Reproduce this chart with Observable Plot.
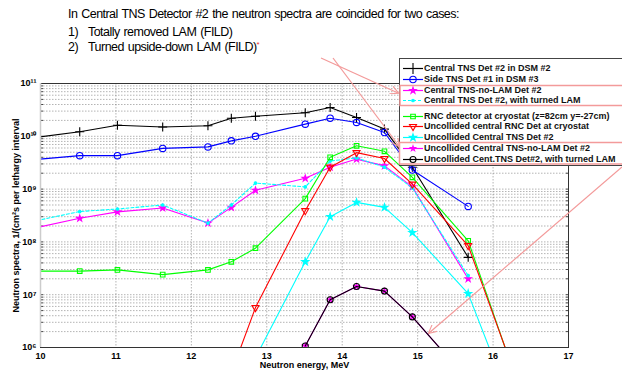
<!DOCTYPE html>
<html><head><meta charset="utf-8">
<script src="https://cdn.jsdelivr.net/npm/d3@7"></script>
<script src="https://cdn.jsdelivr.net/npm/@observablehq/plot@0.6"></script>
<style>
body{margin:0;width:622px;height:370px;overflow:hidden;background:#fff;position:relative;font-family:"Liberation Sans",Arial,sans-serif;}
#chart{position:absolute;left:0;top:0;}
.t{position:absolute;font-size:12.5px;color:#000;white-space:nowrap;letter-spacing:-0.55px;word-spacing:1px;}
#legend{position:absolute;left:399px;top:58px;width:240px;height:106px;border:1px solid #444;background:#fff;z-index:2;}
.row{position:absolute;left:0;height:11px;white-space:nowrap;font-size:9px;font-weight:bold;color:#111;line-height:11px;}
.row svg{position:absolute;left:0;top:0;}
.row span{position:absolute;left:24px;top:0;}
#ann{position:absolute;left:0;top:0;z-index:3;pointer-events:none;}
</style></head><body>
<div id="chart"></div>
<div class="t" style="left:68px;top:7px">In Central TNS Detector #2 the neutron spectra are coincided for two cases:</div>
<div class="t" style="left:68px;top:25px">1)</div>
<div class="t" style="left:88px;top:25px">Totally removed LAM (FILD)</div>
<div class="t" style="left:68px;top:40px">2)</div>
<div class="t" style="left:88px;top:40px">Turned upside-down LAM (FILD)<span style="color:#e33;font-size:8px;vertical-align:top">*</span></div>
<div id="legend"></div>
<svg id="ann" width="622" height="370"></svg>
<script>
// ---- data ----
const energy = [9.5, 10.52, 11.02, 11.62, 12.22, 12.53, 12.85, 13.51, 13.84, 14.19, 14.56, 14.93, 15.67, 16.5];
const centralDSM2   = [7.9e9, 1.22e10, 1.62e10, 1.5e10, 1.58e10, 2.2e10, 2.4e10, 2.8e10, 3.5e10, 2.27e10, 1.37e10, 2.6e9, 5.1e7, null];
const sideDSM3      = [3.2e9, 4.3e9, 4.3e9, 5.9e9, 6.3e9, 8.2e9, 1.0e10, 1.7e10, 2.2e10, 1.83e10, 1.18e10, 2.3e9, 4.7e8, null];
const centralNoLAM  = [1.35e8, 2.8e8, 3.7e8, 4.4e8, 2.27e8, 4.5e8, 9.5e8, 1.6e9, 2.6e9, 3.7e9, 2.75e9, 1.1e9, 2.0e7, null];
const centralTurned = [1.86e8, 3.76e8, 4.2e8, 5.0e8, 2.27e8, 5.0e8, 1.3e9, 1.1e9, 3.4e9, 3.9e9, 2.6e9, 1.05e9, 2.3e7, null];
const rncCryostat   = [2.8e7, 2.8e7, 2.95e7, 2.4e7, 2.95e7, 4.2e7, 7.6e7, 6.6e8, 4.0e9, 6.6e9, 5.2e9, 1.67e9, 1.05e8, 3.9e4];
const uncRNC        = [null, null, null, null, null, 3.3e5, 5.7e6, 3.9e8, 2.6e9, 4.9e9, 3.8e9, 1.24e9, 8.5e7, 4.6e4];
const uncCentral    = [null, null, null, null, null, null, 6.4e5, 4.2e7, 3.0e8, 5.6e8, 4.5e8, 1.5e8, 1.05e7, 9.3e3];
const uncNoLAM      = [null, null, null, null, null, null, null, 1.07e6, 8.0e6, 1.43e7, 1.17e7, 3.8e6, 2.4e5, null];
const uncTurned     = [null, null, null, null, null, null, null, 1.07e6, 8.0e6, 1.43e7, 1.17e7, 3.8e6, 2.4e5, null];

const seriesNames = [
  "Central TNS Det #2 in DSM #2",
  "Side TNS Det #1 in DSM #3",
  "Central TNS-no-LAM Det #2",
  "Central TNS Det #2, with turned LAM",
  "RNC detector at cryostat (z=82cm y=-27cm)",
  "Uncollided central RNC Det at cryostat",
  "Uncollided Central TNS Det #2",
  "Uncollided Central TNS-no-LAM Det #2",
  "Uncollided Cent.TNS Det#2, with turned LAM"
];
const xTicks = [10, 11, 12, 13, 14, 15, 16, 17];
const yTicks = [1e6, 1e7, 1e8, 1e9, 1e10, 1e11];

// ---- styles ----
const styles = [
  {stroke: "#000000", symbol: "plus", fill: "none", r: 3},
  {stroke: "#0000ff", symbol: "circle", fill: "none", r: 3.2},
  {stroke: "#ff00ff", symbol: "star", fill: "#ff00ff", r: 2},
  {stroke: "#00ffff", symbol: "circle", fill: "#00ffff", r: 1.3, dash: "3,2"},
  {stroke: "#00ff00", symbol: "square", fill: "none", r: 2.6},
  {stroke: "#ff0000", symbol: "triangle", fill: "none", r: 2.6, rotate: 180},
  {stroke: "#00ffff", symbol: "star", fill: "#00ffff", r: 2.2},
  {stroke: "#ff00ff", symbol: "star", fill: "#ff00ff", r: 1.6},
  {stroke: "#000000", symbol: "circle", fill: "none", r: 3}
];
const allSeries = [centralDSM2, sideDSM3, centralNoLAM, centralTurned, rncCryostat, uncRNC, uncCentral, uncNoLAM, uncTurned];

const minorTicks = [];
for (let d = 6; d <= 10; d++) for (let k = 1; k <= 9; k++) minorTicks.push(k * Math.pow(10, d));
minorTicks.push(1e11);

const sup = {"0":"⁰","1":"¹","2":"²","3":"³","4":"⁴","5":"⁵","6":"⁶","7":"⁷","8":"⁸","9":"⁹"};
const fmtY = v => "10" + String(Math.round(Math.log10(v))).split("").map(c => sup[c]).join("");

const marks = [
  Plot.gridY(minorTicks, {stroke: "#777", strokeOpacity: 0.55, strokeDasharray: "1.5,1.5"}),
  Plot.gridX(xTicks, {stroke: "#777", strokeOpacity: 0.55, strokeDasharray: "1.5,1.5"}),
  Plot.axisY(minorTicks, {anchor: "left", tickSize: -3, tickFormat: () => "", label: null, stroke: "#444"}),
  Plot.axisY(minorTicks, {anchor: "right", tickSize: -3, tickFormat: () => "", label: null, stroke: "#444"}),
  Plot.axisY(yTicks, {anchor: "left", tickSize: 0, tickPadding: 4, tickFormat: fmtY, fontSize: 9, fontWeight: "bold",
    label: "Neutron spectra, 1/(cm²s per lethargy interval", labelAnchor: "center", labelArrow: "none", labelOffset: 28}),
  Plot.axisX(xTicks, {tickSize: 0, tickPadding: 5, tickFormat: d => String(d), fontSize: 9, fontWeight: "bold",
    label: "Neutron energy, MeV", labelAnchor: "center", labelArrow: "none", labelOffset: 20})
];
allSeries.forEach((vals, i) => {
  const st = styles[i];
  const data = energy.map((e, j) => ({e, v: vals[j]})).filter(d => d.v != null);
  marks.push(Plot.line(data, {x: "e", y: "v", stroke: st.stroke, strokeWidth: 1.1, strokeDasharray: st.dash, clip: true}));
  marks.push(Plot.dot(data, {x: "e", y: "v", symbol: st.symbol, r: st.r, stroke: st.stroke, fill: st.fill, strokeWidth: 1.1, rotate: st.rotate || 0, clip: true}));
});
marks.push(Plot.frame({stroke: "#333", strokeWidth: 1}));
marks.push(Plot.ruleX([10], {stroke: "#ccc", strokeWidth: 1.5}));

const chart = Plot.plot({
  width: 622, height: 370,
  marginLeft: 40, marginRight: 54, marginTop: 83, marginBottom: 23,
  style: {fontFamily: "'Liberation Sans', Arial, sans-serif", fontSize: "9px", fontWeight: "bold", background: "transparent", overflow: "visible"},
  x: {domain: [10, 17]},
  y: {type: "log", domain: [1e6, 1e11]},
  marks
});
document.getElementById("chart").appendChild(chart);

// ---- legend ----
const rowY = [9, 20, 31, 41.5, 57, 67.5, 78, 89, 100];
const symMap = {plus: d3.symbolPlus, circle: d3.symbolCircle, star: d3.symbolStar, square: d3.symbolSquare, triangle: d3.symbolTriangle};
const legend = document.getElementById("legend");
seriesNames.forEach((name, i) => {
  const st = styles[i];
  const row = document.createElement("div");
  row.className = "row";
  row.style.top = (rowY[i] - 5.5) + "px";
  const svg = d3.create("svg").attr("width", 24).attr("height", 11);
  svg.append("line").attr("x1", 3).attr("x2", 23).attr("y1", 5.5).attr("y2", 5.5)
    .attr("stroke", st.stroke).attr("stroke-width", 1.2).attr("stroke-dasharray", st.dash || null);
  const size = Math.PI * st.r * st.r * (st.symbol === "plus" ? 2.2 : 1);
  svg.append("path").attr("d", d3.symbol(symMap[st.symbol], size)())
    .attr("transform", `translate(13,5.5) rotate(${st.rotate || 0})`)
    .attr("fill", st.fill).attr("stroke", st.stroke).attr("stroke-width", 1.1);
  row.appendChild(svg.node());
  const sp = document.createElement("span");
  sp.textContent = name;
  row.appendChild(sp);
  legend.appendChild(row);
});

// ---- annotations (slide overlay) ----
const ann = d3.select("#ann");
const pink = "#f39a9a";
ann.append("defs").append("marker").attr("id", "arr").attr("viewBox", "0 0 10 10").attr("refX", 9).attr("refY", 5)
  .attr("markerWidth", 7).attr("markerHeight", 7).attr("orient", "auto")
  .append("path").attr("d", "M0,0 L10,5 L0,10").attr("fill", "none").attr("stroke", pink).attr("stroke-width", 1.3);
ann.append("rect").attr("x", 400).attr("y", 85.5).attr("width", 240).attr("height", 20).attr("fill", "none").attr("stroke", pink).attr("stroke-width", 1.5);
ann.append("rect").attr("x", 399.5).attr("y", 142.5).attr("width", 240).attr("height", 21.5).attr("fill", "none").attr("stroke", pink).attr("stroke-width", 1.5);
[[321, 58, 398, 93], [333, 58, 399, 146], [622, 167, 429, 333]].forEach(([x1, y1, x2, y2]) => {
  ann.append("line").attr("x1", x1).attr("y1", y1).attr("x2", x2).attr("y2", y2)
    .attr("stroke", pink).attr("stroke-width", 1.2).attr("marker-end", "url(#arr)");
});
</script>
</body></html>
